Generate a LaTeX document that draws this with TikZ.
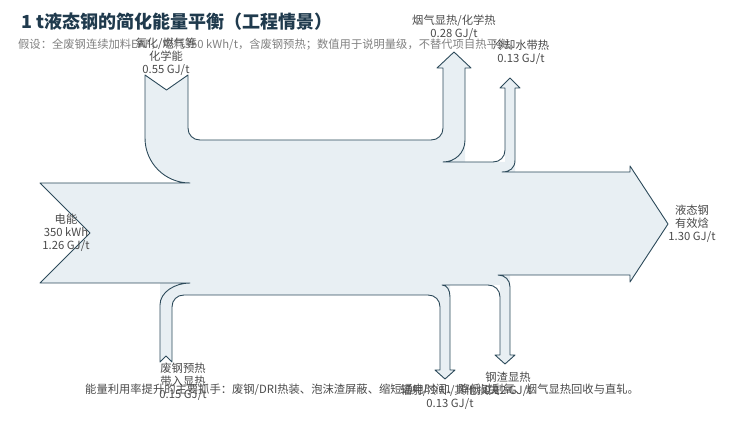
\documentclass[tikz,border=0pt]{standalone}
\usepackage{fontspec}
\setmainfont{Noto Sans CJK SC}
\definecolor{flowfill}{HTML}{E8EFF3}
\definecolor{flowedge}{HTML}{2C4A5A}
\definecolor{titlecol}{HTML}{1F3A4D}
\definecolor{labcol}{HTML}{4A4A4A}
\tikzset{
  lab/.style={align=center,font=\fontsize{11.3}{13}\selectfont,text=labcol,inner sep=0pt},
  edge/.style={draw=flowedge,line width=0.9pt,line join=round},
}

\begin{document}
\begin{tikzpicture}[x=1pt,y=-1pt]
    \useasboundingbox (0,0) rectangle (747,427);

    % fill of the flows
    \fill[flowfill] (40,183) -- (190,183) .. controls (165,183) and (145,163) .. (145,138)
      -- (145,75) -- (166.5,90) -- (188,75) -- (188,128) .. controls (188,135) and (193,140) .. (200,140)
      -- (431,140) .. controls (438,140) and (443,135) .. (443,128) -- (443,68) -- (437,68) -- (454,52)
      -- (471,68) -- (465,68) -- (465,162) -- (505,162) -- (505,88) -- (500,88) -- (510,78) -- (520,88)
      -- (515,88) -- (515,172) -- (630,172) -- (630,166) -- (668,224) -- (630,282) -- (630,275)
      -- (510,275) -- (510,355) -- (515,355) -- (505,364) -- (495,355) -- (500,355) -- (500,285)
      -- (450,285) -- (450,370) -- (455,370) -- (445,379) -- (435,370) -- (440,370)
      -- (440,307) .. controls (440,300) and (435,295) .. (428,295) -- (184,295)
      .. controls (177,295) and (172,300) .. (172,307) -- (172,362) -- (166,356) -- (160,362)
      -- (160,283) -- (40,283) -- (90,233) -- cycle;

    % outlines
    \draw[edge] (40,183) -- (190,183) .. controls (165,183) and (145,163) .. (145,138)
      -- (145,75) -- (166.5,90) -- (188,75) -- (188,128) .. controls (188,135) and (193,140) .. (200,140)
      -- (431,140) .. controls (438,140) and (443,135) .. (443,128) -- (443,68) -- (437,68) -- (454,52)
      -- (471,68) -- (465,68) -- (465,140) .. controls (465,153) and (455,162) .. (443,162)
      -- (493,162) .. controls (500,162) and (505,157) .. (505,150) -- (505,88) -- (500,88) -- (510,78)
      -- (520,88) -- (515,88) -- (515,160) .. controls (515,168) and (510,172) .. (502,172)
      -- (630,172) -- (630,166) -- (668,224) -- (630,282) -- (630,275)
      -- (498,275) .. controls (505,275) and (510,280) .. (510,287) -- (510,355) -- (515,355)
      -- (505,364) -- (495,355) -- (500,355) -- (500,297) .. controls (500,290) and (495,285) .. (488,285)
      -- (442,285) .. controls (447,285) and (450,290) .. (450,297) -- (450,370) -- (455,370)
      -- (445,379) -- (435,370) -- (440,370) -- (440,307) .. controls (440,300) and (435,295) .. (428,295)
      -- (184,295) .. controls (177,295) and (172,300) .. (172,307) -- (172,362) -- (166,356) -- (160,362)
      -- (160,305) .. controls (160,292) and (175,283) .. (190,283) -- (40,283) -- (90,233) -- cycle;

    % texts
    \node[anchor=west,font=\fontsize{18}{20}\selectfont\bfseries,text=titlecol] (title) at (18,22)
      {1 t液态钢的简化能量平衡（工程情景）};
    \node[anchor=west,lab,text=gray] (note) at (18,45)
      {假设：全废钢连续加料EAF，电耗350 kWh/t，含废钢预热；数值用于说明量级，不替代项目热平衡。};
    \node[lab] (chem) at (166,57) {氧化/燃气等\\化学能\\0.55 GJ/t};
    \node[lab] (flue) at (454,27) {烟气显热/化学热\\0.28 GJ/t};
    \node[lab] (cool) at (521,52) {冷却水带热\\0.13 GJ/t};
    \node[lab] (elec) at (66,233) {电能\\350 kWh\\1.26 GJ/t};
    \node[lab] (steel) at (692,224) {液态钢\\有效焓\\1.30 GJ/t};
    \node[lab] (scrap) at (183,382) {废钢预热\\带入显热\\0.15 GJ/t};
    \node[lab] (loss) at (450,397) {辐射/冷却/其他损失\\0.13 GJ/t};
    \node[lab] (slag) at (508,384) {钢渣显热\\0.12 GJ/t};
    \node[anchor=west,lab] (foot) at (85,390)
      {能量利用率提升的主要抓手：废钢/DRI热装、泡沫渣屏蔽、缩短通电时间、降低过剩氧、烟气显热回收与直轧。};
\end{tikzpicture}
\end{document}
